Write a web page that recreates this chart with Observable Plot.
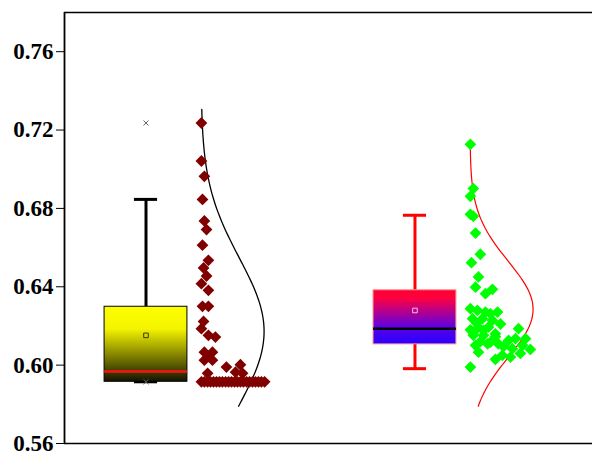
<!DOCTYPE html>
<html><head><meta charset="utf-8">
<script src="https://cdn.jsdelivr.net/npm/d3@7"></script>
<script src="https://cdn.jsdelivr.net/npm/@observablehq/plot@0.6"></script>
<style>
body{margin:0;background:#fff}
#chart svg text{font-family:'Liberation Serif','Times New Roman',serif !important;font-size:23px !important;font-weight:bold !important;fill:#000}
</style>
</head><body><div id="chart"></div>
<script>
// ---- data ----
const groupX = [1, 2];
const yTicks = [0.56, 0.60, 0.64, 0.68, 0.72, 0.76];
const boxQ1 = [0.5915, 0.6106];
const boxMedian = [0.5968, 0.6186];
const boxQ3 = [0.6298, 0.6382];
const whiskerLow = [0.5915, 0.5982];
const whiskerHigh = [0.6846, 0.6765];
const meanValue = [0.6152, 0.6279];
const extremesA = [0.7236, 0.5915];
// normal-fit curve parameters (mean, sd) and drawn ranges
const curveMu = [0.6172, 0.6285];
const curveSd = [0.0375, 0.0245];
const curveRangeA = [0.579, 0.7305];
const curveRangeB = [0.579, 0.7115];

const valuesA = [0.7236,0.7042,0.6964,0.6846,0.6736,0.6692,0.6612,0.6535,0.6496,0.6455,0.6416,0.6382,0.6300,0.6300,0.6223,0.6186,0.6152,0.6143,0.6066,0.6066,0.6045,0.6025,0.6025,0.6002,0.5990,0.5964,0.5958,0.5958,
  0.5915,0.5915,0.5915,0.5915,0.5915,0.5915,0.5915,0.5915,0.5915,0.5915,0.5915,0.5915,0.5915,0.5915,0.5915,0.5915,0.5915,0.5915,0.5915,0.5915,0.5915,0.5915];
const jitterA = [0.206,0.206,0.217,0.210,0.217,0.225,0.210,0.232,0.214,0.225,0.206,0.232,0.210,0.232,0.214,0.206,0.232,0.258,0.217,0.247,0.232,0.217,0.247,0.351,0.299,0.333,0.229,0.359,
  0.206,0.217,0.229,0.240,0.251,0.262,0.273,0.284,0.296,0.307,0.318,0.329,0.340,0.351,0.362,0.374,0.385,0.396,0.407,0.418,0.429,0.441];
const valuesB = [0.7127,0.6901,0.6862,0.6770,0.6760,0.6674,0.6566,0.6523,0.6450,0.6398,0.6387,0.6365,
  0.6288,0.6279,0.6271,0.6271,0.6262,0.6237,0.6237,0.6228,0.6215,0.6194,0.6194,0.6186,0.6180,0.6177,0.6165,0.6160,0.6152,0.6152,0.6145,0.6135,0.6135,0.6126,0.6118,0.6109,0.6109,0.6101,0.6101,0.6095,0.6084,0.6080,0.6066,0.6060,0.6050,0.6041,0.6030,0.5990,0.6120,0.6210];
const jitterB = [0.206,0.217,0.206,0.206,0.217,0.225,0.243,0.210,0.236,0.225,0.288,0.262,
  0.206,0.232,0.262,0.307,0.281,0.214,0.251,0.288,0.229,0.236,0.273,0.385,0.206,0.255,0.217,0.299,0.255,0.217,0.299,0.374,0.411,0.348,0.281,0.270,0.310,0.225,0.400,0.329,0.362,0.429,0.236,0.392,0.325,0.355,0.299,0.206,0.243,0.318];

// ---- derived tables ----
const boxHalf = 0.154, capHalf = 0.043, curveBase = 0.205, curveAmp = 0.234;
const ptsA = valuesA.map((v, i) => ({x: groupX[0] + jitterA[i], y: v}));
const ptsB = valuesB.map((v, i) => ({x: groupX[1] + jitterB[i], y: v}));
const stats = groupX.map((x, i) => ({x, q1: boxQ1[i], med: boxMedian[i], q3: boxQ3[i], lo: whiskerLow[i], hi: whiskerHigh[i], mean: meanValue[i]}));

function normalCurve(cx, mu, sd, range) {
  const n = 150;
  return d3.range(n + 1).map(k => {
    const y = range[0] + (range[1] - range[0]) * k / n;
    return {x: cx + curveBase + curveAmp * Math.exp(-((y - mu) ** 2) / (2 * sd * sd)), y};
  });
}
const curveA = normalCurve(groupX[0], curveMu[0], curveSd[0], curveRangeA);
const curveB = normalCurve(groupX[1], curveMu[1], curveSd[1], curveRangeB);

const colors = [{whisker: "black", median: "#ff1010", boxStroke: "black", fill: "url(#gradA)", meanStroke: "#3a3a00", dot: "#800000", curve: "black"},
                {whisker: "#ff0000", median: "black", boxStroke: "#ff8a8a", fill: "url(#gradB)", meanStroke: "#ffc0e0", dot: "#00ff00", curve: "#ff0000"}];

const marks = [];
stats.forEach((s, i) => {
  const c = colors[i];
  marks.push(
    Plot.ruleX([s], {x: "x", y1: "q3", y2: "hi", stroke: c.whisker, strokeWidth: 3}),
    Plot.ruleX([s], {x: "x", y1: "lo", y2: "q1", stroke: c.whisker, strokeWidth: 3}),
    Plot.ruleY([s], {y: "hi", x1: d => d.x - capHalf, x2: d => d.x + capHalf, stroke: c.whisker, strokeWidth: 3}),
    Plot.ruleY([s], {y: "lo", x1: d => d.x - capHalf, x2: d => d.x + capHalf, stroke: c.whisker, strokeWidth: 3}),
    Plot.rect([s], {x1: d => d.x - boxHalf, x2: d => d.x + boxHalf, y1: "q1", y2: "q3", fill: c.fill, stroke: c.boxStroke, strokeWidth: 1}),
    Plot.ruleY([s], {y: "med", x1: d => d.x - boxHalf, x2: d => d.x + boxHalf, stroke: c.median, strokeWidth: 2.5}),
    Plot.dot([s], {x: "x", y: "mean", symbol: "square", r: 2.6, fill: "none", stroke: c.meanStroke, strokeWidth: 1})
  );
});
marks.push(
  Plot.dot(extremesA, {x: groupX[0], y: d => d, symbol: "times", r: 2.4, stroke: "#666", strokeWidth: 1}),
  Plot.line(curveA, {x: "x", y: "y", stroke: colors[0].curve, strokeWidth: 1.3}),
  Plot.line(curveB, {x: "x", y: "y", stroke: colors[1].curve, strokeWidth: 1.2}),
  Plot.dot(ptsA, {x: "x", y: "y", symbol: "diamond2", r: 5.3, fill: colors[0].dot, stroke: "none"}),
  Plot.dot(ptsB, {x: "x", y: "y", symbol: "diamond2", r: 5.3, fill: colors[1].dot, stroke: "none"}),
  Plot.ruleY([0.56, 0.78], {stroke: "black", strokeWidth: 1.6}),
  Plot.ruleX([0.697], {stroke: "black", strokeWidth: 1.8})
);

const svg = Plot.plot({
  width: 592, height: 455,
  marginLeft: 64, marginRight: 0, marginTop: 12, marginBottom: 12,
  style: {fontFamily: "'Liberation Serif', 'Times New Roman', serif", fontSize: "23px", fontWeight: "bold", color: "black", background: "white"},
  x: {domain: [0.697, 2.66], axis: null},
  y: {domain: [0.56, 0.78], ticks: yTicks, tickFormat: d3.format(".2f"), tickSize: 8, tickPadding: 3, label: null},
  marks
});
d3.select(svg).insert("defs", ":first-child").html(`
  <linearGradient id="gradA" x1="0" y1="0" x2="0" y2="1">
    <stop offset="0" stop-color="#ffff00"/><stop offset="0.3" stop-color="#f4f400"/><stop offset="1" stop-color="#141400"/>
  </linearGradient>
  <linearGradient id="gradB" x1="0" y1="0" x2="0" y2="1">
    <stop offset="0" stop-color="#ff0030"/><stop offset="0.15" stop-color="#ff0040"/><stop offset="0.7" stop-color="#5a00e8"/><stop offset="1" stop-color="#2800ff"/>
  </linearGradient>`);
d3.select(svg).selectAll("text").attr("font-size", null).style("font-size", "23px");
document.getElementById("chart").appendChild(svg);
</script>
</body></html>
